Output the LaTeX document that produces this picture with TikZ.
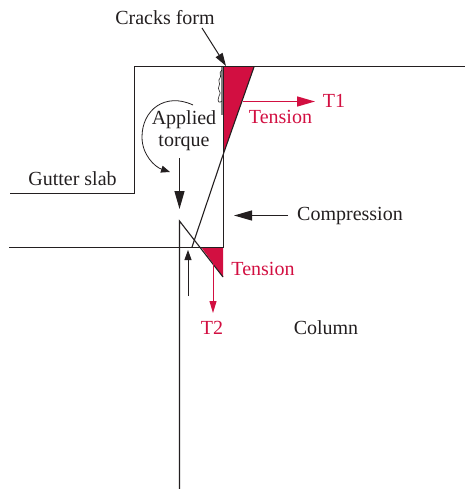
\documentclass[tikz,border=0pt]{standalone}
\usepackage{fontspec}
\setmainfont{Liberation Serif}
\usetikzlibrary{arrows.meta}
\definecolor{crim}{HTML}{D20F41}
\definecolor{ink}{HTML}{231F20}
\tikzset{
  x=1pt,y=-1pt,
  struct/.style={draw=ink,line width=1.1pt},
  blk/.style={draw=ink,line width=1.2pt,-{Triangle[length=18pt,width=10pt]}},
  red arrow/.style={draw=crim,line width=1.5pt,-{Triangle[length=18pt,width=10pt]}},
  lab/.style={font=\fontsize{20}{21}\selectfont,text=ink,inner sep=0pt,align=center},
  rlab/.style={font=\fontsize{20}{21}\selectfont,text=crim,inner sep=0pt},
}
\begin{document}
\begin{tikzpicture}
\useasboundingbox (0,0) rectangle (465,489);
% red zones
\fill[crim] (223,67) -- (254,67) -- (223,155) -- cycle;
\fill[crim] (201,247) -- (223,247) -- (223,277) -- cycle;
% structure
\draw[struct] (10,193.5) -- (134.5,193.5) -- (134.5,66.5) -- (465,66.5);
\draw[struct] (9,247.5) -- (223.5,247.5) -- (223.5,66.5);
\draw[struct] (179.5,489) -- (179.5,221) -- (223,277);
\draw[struct] (254,67) -- (223,155) -- (192,247);
% crack
\draw[draw=gray,line width=1.1pt] (222,67) -- (222,115);
\draw[draw=ink,line width=.6pt] (222,70) .. controls (218,73) and (222,76) .. (220,78)
  .. controls (217,81) and (221,83) .. (219,86) .. controls (217,89) and (221,92) .. (220,94)
  .. controls (218,97) and (219,99) .. (218,100) .. controls (217,102) and (220,103) .. (222,101);
% arrows
\coordinate (c1) at (202,28); \coordinate (c2) at (226,66);
\draw[blk,line width=1pt,-{Triangle[length=13pt,width=8pt]}] (c1) -- (c2);
\coordinate (t1a) at (243,101.5); \coordinate (t1b) at (315,101.5);
\draw[red arrow] (t1a) -- (t1b);
\coordinate (ap1) at (179.5,158); \coordinate (ap2) at (179.5,209);
\draw[blk] (ap1) -- (ap2);
\coordinate (co1) at (288,215.5); \coordinate (co2) at (234,215.5);
\draw[blk] (co1) -- (co2);
\coordinate (up1) at (188,296); \coordinate (up2) at (188,250);
\draw[blk,line width=.9pt,-{Triangle[length=10pt,width=7pt]}] (up1) -- (up2);
\coordinate (t2a) at (213,263); \coordinate (t2b) at (213,313);
\draw[red arrow,line width=1pt,-{Triangle[length=12pt,width=7pt]}] (t2a) -- (t2b);
\coordinate (tq1) at (193,105); \coordinate (tq2) at (170,172);
\draw[draw=ink,line width=.8pt,-{Triangle[length=9pt,width=7pt]}] (tq1) .. controls (165,92) and (142,110) .. (142,137) .. controls (142,155) and (155,167) .. (tq2);
% labels
\node[lab] (cracks) at (165,18) {Cracks form};
\node[lab] (applied) at (184,131) {Applied\\[1pt]torque};
\node[lab] (gutter) at (72.5,179) {Gutter slab};
\node[lab] (comp) at (350,216) {Compression};
\node[lab] (column) at (326,328) {Column};
\node[rlab] (ten1) at (280.5,117) {Tension};
\node[rlab] (t1) at (334,101) {T1};
\node[rlab] (ten2) at (263,269) {Tension};
\node[rlab] (t2) at (212,328) {T2};
\end{tikzpicture}
\end{document}
